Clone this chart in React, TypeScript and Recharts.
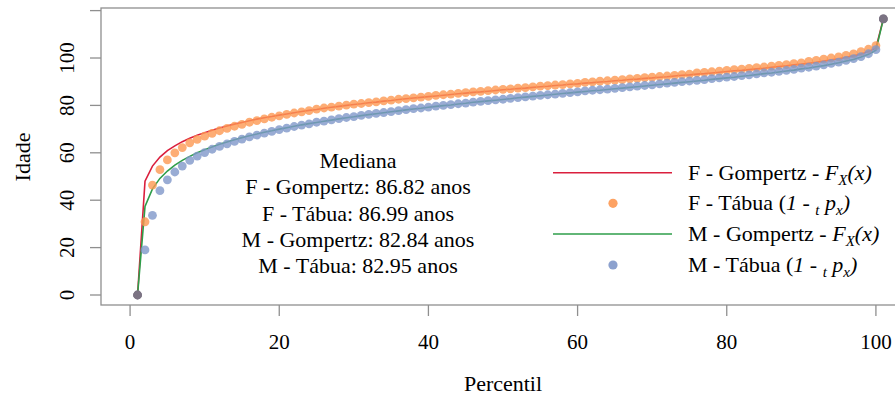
import { ComposedChart, Line, Scatter, XAxis, YAxis, Customized } from "recharts";

// percentis 1..101 (p = 0, 0.01, ..., 1)
const pct = Array.from({ length: 101 }, (_, i) => i + 1);

const fGompertz = [
  0, 48.0, 54.4, 58.2, 60.9, 62.9, 64.7, 66.1, 67.4, 68.5,
  69.5, 70.5, 71.3, 72.1, 72.8, 73.5, 74.2, 74.8, 75.3, 75.9,
  76.4, 76.9, 77.4, 77.9, 78.3, 78.8, 79.2, 79.6, 80.0, 80.4,
  80.7, 81.1, 81.4, 81.8, 82.1, 82.5, 82.8, 83.1, 83.4, 83.7,
  84.0, 84.3, 84.6, 84.9, 85.2, 85.5, 85.7, 86.0, 86.3, 86.6,
  86.8, 87.1, 87.3, 87.6, 87.9, 88.1, 88.4, 88.6, 88.9, 89.1,
  89.4, 89.6, 89.9, 90.1, 90.4, 90.6, 90.9, 91.1, 91.4, 91.6,
  91.9, 92.1, 92.4, 92.7, 92.9, 93.2, 93.4, 93.7, 94.0, 94.3,
  94.6, 94.8, 95.1, 95.4, 95.7, 96.1, 96.4, 96.7, 97.1, 97.4,
  97.8, 98.2, 98.7, 99.2, 99.7, 100.3, 100.9, 101.7, 102.7, 104.2,
  116.5,
];

const fTabua = [
  0, 30.9, 46.4, 52.9, 57.0, 60.0, 62.2, 64.2, 65.7, 67.0,
  68.2, 69.3, 70.3, 71.2, 72.0, 72.9, 73.6, 74.3, 75.0, 75.6,
  76.2, 76.8, 77.3, 77.8, 78.4, 78.9, 79.3, 79.7, 80.1, 80.5,
  80.8, 81.2, 81.5, 81.9, 82.2, 82.6, 82.9, 83.2, 83.5, 83.8,
  84.2, 84.5, 84.8, 85.1, 85.4, 85.7, 85.9, 86.2, 86.5, 86.8,
  87.0, 87.3, 87.5, 87.8, 88.1, 88.3, 88.6, 88.8, 89.1, 89.3,
  89.7, 89.9, 90.2, 90.4, 90.7, 90.9, 91.2, 91.4, 91.7, 91.9,
  92.2, 92.4, 92.7, 93.0, 93.2, 93.7, 93.9, 94.2, 94.5, 94.8,
  95.1, 95.3, 95.6, 95.9, 96.2, 96.6, 96.9, 97.2, 97.6, 97.9,
  98.6, 99.0, 99.5, 100.0, 100.5, 101.1, 101.7, 102.7, 103.7, 105.2,
  116.5,
];

const mGompertz = [
  0, 37.4, 44.8, 49.2, 52.3, 54.8, 56.8, 58.5, 60.0, 61.3,
  62.5, 63.6, 64.6, 65.5, 66.4, 67.2, 67.9, 68.7, 69.3, 70.0,
  70.6, 71.2, 71.8, 72.3, 72.8, 73.3, 73.8, 74.3, 74.8, 75.2,
  75.7, 76.1, 76.5, 76.9, 77.3, 77.7, 78.1, 78.5, 78.8, 79.2,
  79.6, 79.9, 80.2, 80.6, 80.9, 81.3, 81.6, 81.9, 82.2, 82.5,
  82.8, 83.2, 83.5, 83.8, 84.1, 84.4, 84.7, 85.0, 85.3, 85.6,
  85.9, 86.2, 86.4, 86.7, 87.0, 87.3, 87.6, 87.9, 88.2, 88.5,
  88.8, 89.1, 89.4, 89.7, 90.0, 90.3, 90.6, 91.0, 91.3, 91.6,
  91.9, 92.3, 92.6, 93.0, 93.4, 93.7, 94.1, 94.5, 94.9, 95.4,
  95.8, 96.3, 96.8, 97.4, 98.0, 98.7, 99.4, 100.4, 101.6, 103.3,
  116.5,
];

const mTabua = [
  0, 19.0, 33.6, 44.0, 48.6, 51.9, 54.4, 56.8, 58.6, 60.1,
  61.5, 62.7, 63.8, 64.8, 65.8, 66.7, 67.5, 68.3, 69.0, 69.8,
  70.4, 71.1, 71.7, 72.2, 72.9, 73.4, 73.9, 74.4, 74.9, 75.3,
  75.8, 76.2, 76.6, 77.0, 77.4, 77.8, 78.2, 78.6, 78.9, 79.3,
  79.7, 80.0, 80.3, 80.7, 81.0, 81.4, 81.7, 82.0, 82.3, 82.6,
  83.0, 83.3, 83.6, 83.9, 84.2, 84.5, 84.8, 85.1, 85.4, 85.7,
  86.1, 86.4, 86.6, 86.9, 87.2, 87.5, 87.8, 88.1, 88.4, 88.7,
  89.1, 89.4, 89.7, 90.0, 90.3, 90.6, 90.9, 91.3, 91.6, 91.9,
  92.2, 92.6, 92.9, 93.3, 93.7, 94.0, 94.4, 94.8, 95.2, 95.7,
  96.1, 96.6, 97.1, 97.7, 98.3, 99.0, 99.7, 100.6, 101.8, 103.5,
  116.5,
];

const xTicks = [0, 20, 40, 60, 80, 100];
const yTicks = [0, 20, 40, 60, 80, 100, 120];

const medianaLines = [
  "Mediana",
  "F - Gompertz: 86.82 anos",
  "F - Tábua: 86.99 anos",
  "M - Gompertz: 82.84 anos",
  "M - Tábua: 82.95 anos",
];

const RED = "#da1f3d";
const GREEN = "#2e9e4a";
const ORANGE = "#fd9852";
const BLUE = "#7f97c9";
const GREY_BOX = "#8f8f8f";
const FONT = "Liberation Serif, Times New Roman, serif";

const data = pct.map((p, i) => ({
  pct: p,
  fGomp: fGompertz[i],
  fTab: fTabua[i],
  mGomp: mGompertz[i],
  mTab: mTabua[i],
}));

const XTick = (props: any) => (
  <text x={props.x} y={props.y + 32.5} textAnchor="middle" style={{ fontFamily: FONT }} fontSize={21} fill="#000">
    {props.payload.value}
  </text>
);

const YTick = (props: any) => {
  if (props.payload.value === 120) return <g />;
  const x = props.x - 16;
  return (
    <text
      x={x}
      y={props.y}
      transform={`rotate(-90, ${x}, ${props.y})`}
      textAnchor="middle"
      style={{ fontFamily: FONT }}
      fontSize={21}
      fill="#000"
    >
      {props.payload.value}
    </text>
  );
};

const dot = (color: string) => (props: any) => {
  const { cx, cy, payload } = props;
  // pontos onde F e M coincidem ficam cinza
  const same = payload.fTab === payload.mTab;
  return <circle cx={cx} cy={cy} r={4.4} fill={same ? "#7b7383" : color} fillOpacity={same ? 1 : 0.8} />;
};

const sub = { fontSize: 15, dy: 5 };

function Overlay() {
  const legendRows = [
    { kind: "line", color: RED, y: 172.7 },
    { kind: "dot", color: ORANGE, y: 203.3 },
    { kind: "line", color: GREEN, y: 234 },
    { kind: "dot", color: BLUE, y: 265 },
  ];
  return (
    <g style={{ fontFamily: FONT }} fill="#000">
      <rect x={101} y={8} width={804} height={297} fill="none" stroke={GREY_BOX} strokeWidth={1.3} />

      <text x={30} y={157} transform="rotate(-90, 30, 157)" textAnchor="middle" fontSize={22}>
        Idade
      </text>
      <text x={503} y={391} textAnchor="middle" fontSize={22}>
        Percentil
      </text>

      {medianaLines.map((t, i) => (
        <text key={t} x={358} y={168 + i * 26.3} textAnchor="middle" fontSize={22}>
          {t}
        </text>
      ))}

      {legendRows.map((r, i) =>
        r.kind === "line" ? (
          <line key={i} x1={553} x2={672} y1={r.y} y2={r.y} stroke={r.color} strokeWidth={1.6} />
        ) : (
          <circle key={i} cx={613} cy={r.y} r={4.6} fill={r.color} fillOpacity={0.9} />
        )
      )}

      <text x={688} y={179.5} fontSize={22}>
        F - Gompertz - <tspan fontStyle="italic">F</tspan>
        <tspan fontStyle="italic" {...sub}>X</tspan>
        <tspan fontStyle="italic" dy={-5}>(x)</tspan>
      </text>
      <text x={688} y={210.3} fontSize={22}>
        F - Tábua (<tspan fontStyle="italic">1 - </tspan>
        <tspan fontStyle="italic" {...sub}>t</tspan>
        <tspan fontStyle="italic" dy={-5}> p</tspan>
        <tspan fontStyle="italic" {...sub}>x</tspan>
        <tspan fontStyle="italic" dy={-5}>)</tspan>
      </text>
      <text x={688} y={241} fontSize={22}>
        M - Gompertz - <tspan fontStyle="italic">F</tspan>
        <tspan fontStyle="italic" {...sub}>X</tspan>
        <tspan fontStyle="italic" dy={-5}>(x)</tspan>
      </text>
      <text x={688} y={272} fontSize={22}>
        M - Tábua (<tspan fontStyle="italic">1 - </tspan>
        <tspan fontStyle="italic" {...sub}>t</tspan>
        <tspan fontStyle="italic" dy={-5}> p</tspan>
        <tspan fontStyle="italic" {...sub}>x</tspan>
        <tspan fontStyle="italic" dy={-5}>)</tspan>
      </text>
    </g>
  );
}

export default function App() {
  return (
    <div style={{ position: "absolute", left: 0, top: 0, width: 895, height: 398, overflow: "hidden", background: "#fff" }}>
      <ComposedChart width={930} height={398} data={data} margin={{ top: 8, right: 25, bottom: 0, left: 0 }}>
        <XAxis
          dataKey="pct"
          type="number"
          domain={[-3.9, 103.9]}
          ticks={xTicks}
          allowDataOverflow
          height={93}
          tickSize={11}
          tickMargin={0}
          axisLine={false}
          tickLine={{ stroke: GREY_BOX, strokeWidth: 1.3 }}
          tick={XTick}
        />
        <YAxis
          type="number"
          domain={[-4.22, 121.1]}
          ticks={yTicks}
          allowDataOverflow
          width={101}
          tickSize={11}
          tickMargin={0}
          axisLine={false}
          tickLine={{ stroke: GREY_BOX, strokeWidth: 1.3 }}
          tick={YTick}
        />
        <Line dataKey="fGomp" stroke={RED} strokeWidth={1.6} dot={false} isAnimationActive={false} type="linear" />
        <Line dataKey="mGomp" stroke={GREEN} strokeWidth={1.6} dot={false} isAnimationActive={false} type="linear" />
        <Scatter dataKey="fTab" shape={dot(ORANGE)} isAnimationActive={false} />
        <Scatter dataKey="mTab" shape={dot(BLUE)} isAnimationActive={false} />
        <Customized component={Overlay} />
      </ComposedChart>
    </div>
  );
}
